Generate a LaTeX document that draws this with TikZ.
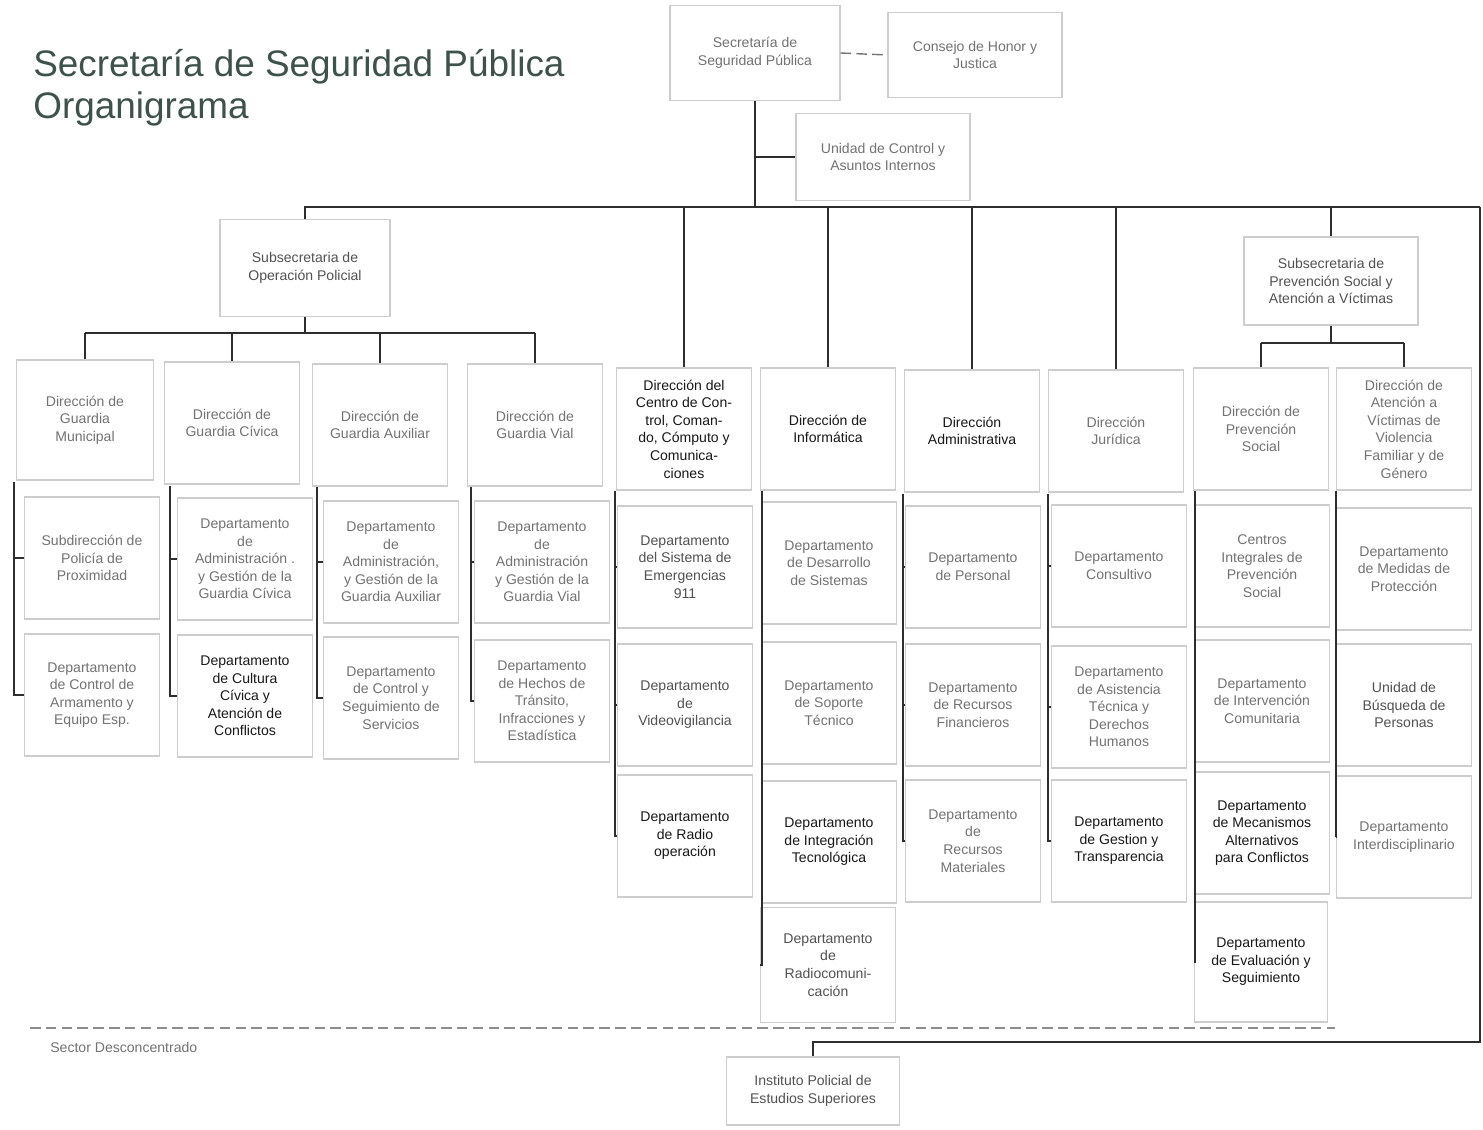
\documentclass[tikz,border=0pt]{standalone}
\usepackage{fontspec}
\setmainfont{Liberation Sans}
\definecolor{titlecol}{RGB}{62,82,76}
\definecolor{boxline}{RGB}{205,205,205}
\definecolor{txtgray}{RGB}{115,115,115}
\begin{document}
\begin{tikzpicture}[x=0.02cm,y=-0.02cm,
  box/.style={draw=boxline, line width=0.7pt, fill=white, align=center,
    minimum width=2.7cm, minimum height=2.44cm, inner sep=1pt,
    font=\fontsize{8}{10}\selectfont, text=txtgray},
  dk/.style={text=black!90},
  md/.style={text=black!68},
  conn/.style={draw=black!82, line width=1.2pt},
  bus/.style={draw=black!82, line width=1.6pt},
  sep/.style={draw=black!45, dashed, dash pattern=on 6pt off 3pt, line width=0.8pt}]

\useasboundingbox (0,0) rectangle (1483,1129);

% title
\node[anchor=base west, inner sep=0, text=titlecol, font=\fontsize{21}{25}\selectfont] (title1) at (33,76) {Secretaría de Seguridad Pública};
\node[anchor=base west, inner sep=0, text=titlecol, font=\fontsize{21}{25}\selectfont] (title2) at (33,118) {Organigrama};

% head and staff units
\node[box, minimum width=3.4cm, minimum height=1.9cm] (ssp) at (755,53) {Secretaría de\\Seguridad Pública};
\node[box, minimum width=3.48cm, minimum height=1.7cm] (chj) at (975,55) {Consejo de Honor y\\Justica};
\node[box, minimum width=3.48cm, minimum height=1.74cm] (uc) at (883,157) {Unidad de Control y\\Asuntos Internos};

% second level
\node[box, minimum width=3.4cm, minimum height=1.94cm, md] (sop) at (305,268) {Subsecretaria de\\Operación Policial};
\node[box, minimum width=3.48cm, minimum height=1.76cm, md] (spv) at (1331,281) {Subsecretaria de\\Prevención Social y\\Atención a Víctimas};
\node[box, dk] (ccc) at (684,429) {Dirección del\\Centro de Con-\\trol, Coman-\\do, Cómputo y\\Comunica-\\ciones};
\node[box, dk] (inf) at (828,429) {Dirección de\\Informática};
\node[box, dk] (adm) at (972,431) {Dirección\\Administrativa};
\node[box] (jur) at (1116,431) {Dirección\\Jurídica};

% directorates under Operación Policial
\node[box, minimum width=2.74cm, minimum height=2.4cm] (dgm) at (85,420) {Dirección de\\Guardia\\Municipal};
\node[box] (dgc) at (232,423) {Dirección de\\Guardia Cívica};
\node[box] (dga) at (380,425) {Dirección de\\Guardia Auxiliar};
\node[box] (dgv) at (535,425) {Dirección de\\Guardia Vial};

% directorates under Prevención Social
\node[box] (dps) at (1261,429) {Dirección de\\Prevención\\Social};
\node[box] (dav) at (1404,429) {Dirección de\\Atención a\\Víctimas de\\Violencia\\Familiar y de\\Género};

% departments
\node[box] (m1) at (92,558) {Subdirección de\\Policía de\\Proximidad};
\node[box] (m2) at (92,695) {Departamento\\de Control de\\Armamento y\\Equipo Esp.};

\node[box] (c1) at (245,559) {Departamento\\de\\Administración .\\y Gestión de la\\Guardia Cívica};
\node[box, dk] (c2) at (245,696) {Departamento\\de Cultura\\Cívica y\\Atención de\\Conflictos};

\node[box] (a1) at (391,562) {Departamento\\de\\Administración,\\y Gestión de la\\Guardia Auxiliar};
\node[box] (a2) at (391,698) {Departamento\\de Control y\\Seguimiento de\\Servicios};

\node[box] (v1) at (542,562) {Departamento\\de\\Administración\\y Gestión de la\\Guardia Vial};
\node[box] (v2) at (542,701) {Departamento\\de Hechos de\\Tránsito,\\Infracciones y\\Estadística};

\node[box, md] (k1) at (685,567) {Departamento\\del Sistema de\\Emergencias\\911};
\node[box, md] (k2) at (685,705) {Departamento\\de\\Videovigilancia};
\node[box, dk] (k3) at (685,836) {Departamento\\de Radio\\operación};

\node[box] (i1) at (829,563) {Departamento\\de Desarrollo\\de Sistemas};
\node[box] (i2) at (829,703) {Departamento\\de Soporte\\Técnico};
\node[box, dk] (i3) at (829,842) {Departamento\\de Integración\\Tecnológica};
\node[box, md, minimum height=2.3cm] (i4) at (828,965) {Departamento\\de\\Radiocomuni-\\cación};

\node[box] (p1) at (973,567) {Departamento\\de Personal};
\node[box] (p2) at (973,705) {Departamento\\de Recursos\\Financieros};
\node[box] (p3) at (973,841) {Departamento\\de\\Recursos\\Materiales};

\node[box] (j1) at (1119,566) {Departamento\\Consultivo};
\node[box] (j2) at (1119,707) {Departamento\\de Asistencia\\Técnica y\\Derechos\\Humanos};
\node[box, dk] (j3) at (1119,841) {Departamento\\de Gestion y\\Transparencia};

\node[box] (s1) at (1262,566) {Centros\\Integrales de\\Prevención\\Social};
\node[box] (s2) at (1262,701) {Departamento\\de Intervención\\Comunitaria};
\node[box, dk] (s3) at (1262,833) {Departamento\\de Mecanismos\\Alternativos\\para Conflictos};
\node[box, dk, minimum width=2.66cm, minimum height=2.4cm] (s4) at (1261,962) {Departamento\\de Evaluación y\\Seguimiento};

\node[box] (t1) at (1404,569) {Departamento\\de Medidas de\\Protección};
\node[box, md] (t2) at (1404,705) {Unidad de\\Búsqueda de\\Personas};
\node[box] (t3) at (1404,837) {Departamento\\Interdisciplinario};

% decentralised sector
\node[box, md, minimum width=3.46cm, minimum height=1.36cm] (ipes) at (813,1091) {Instituto Policial de\\Estudios Superiores};
\node[anchor=base west, inner sep=0, text=txtgray, font=\fontsize{8}{10}\selectfont] (sector) at (50,1052) {Sector Desconcentrado};
\draw[sep] (30,1028) -- (1335,1028);

% main trunk and bus
\coordinate (busL) at (304,207);
\coordinate (busR) at (1480,207);
\coordinate (elbow) at (1480,1042);
\draw[bus] (ssp.south) -- (ssp.south |- busL);
\draw[conn] (ssp.south |- uc.west) -- (uc.west);
\draw[sep, draw=black!55] (ssp.east) -- (chj.west);
\draw[bus] (busL) -- (busR);
\draw[bus] (busR) -- (elbow) -| (ipes.north);
\foreach \n in {sop,ccc,inf,adm,jur,spv}
  \draw[conn] (\n.north |- busL) -- (\n.north);

% bus under Operación Policial
\coordinate (sopbus) at (305,333);
\draw[conn] (sop.south) -- (sopbus);
\draw[bus] (dgm.north |- sopbus) -- (dgv.north |- sopbus);
\foreach \n in {dgm,dgc,dga,dgv}
  \draw[conn] (\n.north |- sopbus) -- (\n.north);

% bus under Prevención Social
\coordinate (spvbus) at (1331,343);
\draw[conn] (spv.south) -- (spvbus);
\draw[bus] (dps.north |- spvbus) -- (dav.north |- spvbus);
\foreach \n in {dps,dav}
  \draw[conn] (\n.north |- spvbus) -- (\n.north);

% department columns
\coordinate (col1) at (14,482);
\coordinate (col2) at (170,486);
\coordinate (col3) at (317,487);
\coordinate (col4) at (471,487);
\coordinate (col5) at (615,491);
\coordinate (col6) at (762,491);
\coordinate (col7) at (903,494);
\coordinate (col8) at (1048,494);
\coordinate (col9) at (1195,491);
\coordinate (col10) at (1336,491);
\foreach \c/\n in {col1/m1,col1/m2,col2/c1,col2/c2,col3/a1,col3/a2,col4/v1,col4/v2,
  col5/k1,col5/k2,col5/k3,col6/i1,col6/i2,col6/i3,col6/i4,col7/p1,col7/p2,col7/p3,
  col8/j1,col8/j2,col8/j3,col9/s1,col9/s2,col9/s3,col9/s4,col10/t1,col10/t2,col10/t3}
  \draw[bus] (\c) |- (\n.west);

\end{tikzpicture}
\end{document}
